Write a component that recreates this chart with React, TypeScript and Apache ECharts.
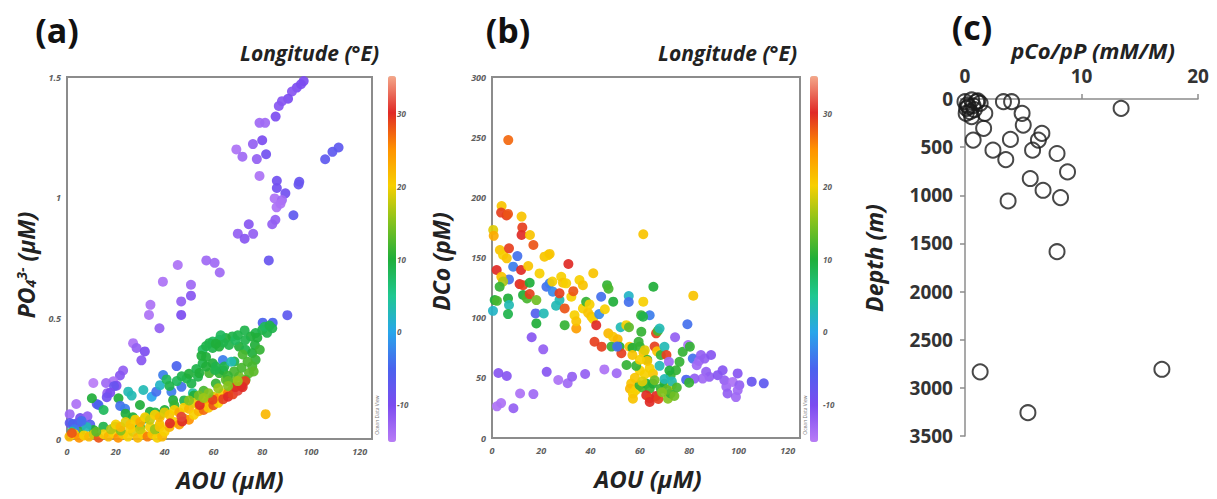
import React, { useEffect, useRef } from "react";
import * as echarts from "echarts";

// ---------- DATA ----------
// Panel (a): [AOU (µM), PO4 (µM), Longitude (°E)]
const panelA: number[][] = [
  // western / purple branch
  [97, 1.483, -10], [95.9, 1.47, -10], [94.2, 1.456, -10], [92.2, 1.44, -11], [90.6, 1.41, -10], [88.1, 1.4, -11],
  [86.8, 1.38, -11], [85.5, 1.336, -10], [78.9, 1.31, -13], [81.2, 1.31, -13], [80, 1.238, -10], [76.2, 1.222, -12],
  [69.4, 1.2, -14], [71.9, 1.17, -13], [77.8, 1.16, -12], [81.6, 1.18, -9], [78.9, 1.09, -14], [105.8, 1.159, -7],
  [108.8, 1.19, -7], [111.3, 1.208, -7], [86, 1.07, -9], [86, 1.04, -9], [89.5, 1.018, -9], [85.1, 0.997, -14],
  [88.1, 0.99, -13], [85.9, 0.96, -14], [95.2, 1.066, -8], [94.9, 1.055, -8], [92.8, 0.927, -7], [87.5, 0.975, -14],
  [85.4, 0.908, -12], [84.1, 0.89, -12], [74.5, 0.89, -11], [70, 0.851, -12], [72.8, 0.83, -11], [76.3, 0.85, -12],
  [82.7, 0.74, -8], [57.1, 0.74, -13], [60.5, 0.73, -13], [62.6, 0.69, -13], [45.4, 0.721, -14], [39.3, 0.652, -14],
  [50.8, 0.639, -13], [50.8, 0.594, -11], [46.8, 0.57, -12], [46.8, 0.514, -10], [34.2, 0.556, -14], [33.6, 0.514, -14],
  [37.9, 0.459, -12], [90.3, 0.513, -7], [27.1, 0.397, -14], [28.5, 0.377, -12], [31.9, 0.363, -10], [30.5, 0.326, -11],
  [23, 0.284, -12], [21.7, 0.263, -11], [19, 0.239, -14], [20.3, 0.221, -10], [16.5, 0.19, -12], [16, 0.232, -13],
  [10.8, 0.232, -15], [12.2, 0.145, -8], [3.8, 0.145, -14], [1.1, 0.103, -13], [5.4, 0.087, -9], [8.4, 0.094, -12],
  [4.3, 0.066, -8], [1.1, 0.066, -7], [19.3, 0.219, -8], [17.7, 0.192, -10], [16.3, 0.173, -9], [9.5, 0.06, -6],
  [6.5, 0.06, -7], [2.4, 0.062, -5],
  // scattered cyan / green / blue
  [10.2, 0.169, 10], [12.9, 0.141, -5], [21.1, 0.169, 10], [25.1, 0.196, 3], [26.5, 0.18, 3], [21.8, 0.137, -4],
  [23.8, 0.125, -3], [29.9, 0.141, 10], [31.3, 0.203, 3], [34.7, 0.175, 0], [36.6, 0.196, -4], [38.1, 0.223, 2],
  [39.4, 0.265, -3], [40.8, 0.247, 8], [42.8, 0.196, -3], [43.5, 0.161, 10], [44.9, 0.302, -5], [46.9, 0.216, -4],
  [49, 0.251, 9], [51, 0.23, 9], [51.6, 0.19, 4], [53.7, 0.258, 9], [34, 0.113, 10], [36, 0.11, 9], [29.9, 0.051, 10],
  [35.9, 0.03, 11], [19.7, 0.051, 10], [14.9, 0.051, 9], [10.9, 0.037, 10], [5.4, 0.03, 11], [27, 0.09, 10],
  [32, 0.085, 8], [24, 0.105, 10], [15, 0.12, 8], [8, 0.05, 3], [3, 0.04, -3], [6, 0.075, -4], [2, 0.03, 5],
  [45, 0.24, 8], [42, 0.22, 9], [47, 0.26, 9], [50, 0.27, 10], [53, 0.29, 9], [44, 0.14, 11], [40, 0.12, 10], [38, 0.1, 11],
  // dense green band
  [80.2, 0.482, -5], [84.3, 0.482, -5], [84.1, 0.459, 9], [80, 0.452, 9], [77.3, 0.439, 9], [75.3, 0.425, 10],
  [72.8, 0.45, 9], [67.8, 0.425, 9], [65.1, 0.418, 10], [62.4, 0.411, 9], [59.7, 0.404, 8], [58.3, 0.397, 9],
  [55.6, 0.37, 8], [59.7, 0.377, 9], [62.4, 0.383, 10], [66.4, 0.39, 9], [70.5, 0.383, 10], [73.2, 0.37, 9],
  [75.9, 0.356, 10], [77.3, 0.328, 11], [75.9, 0.301, 12], [74.6, 0.273, 13], [73.2, 0.246, 12], [70.5, 0.259, 14],
  [68.6, 0.321, 9], [59.7, 0.314, 10], [55.6, 0.314, 9], [54.2, 0.273, 10], [58.3, 0.273, 12], [62.4, 0.273, 11],
  [65.1, 0.246, 13], [68, 0.24, 14], [78, 0.42, 10], [82, 0.44, 9], [73, 0.41, 9], [69, 0.41, 8], [64, 0.4, 9],
  [61, 0.395, 10], [57, 0.385, 9], [77, 0.39, 10], [79, 0.37, 11], [72, 0.35, 12], [74, 0.32, 12], [76.5, 0.28, 13],
  [71.5, 0.295, 12], [68.5, 0.28, 12], [64, 0.285, 10], [61, 0.3, 9], [57, 0.3, 10], [55.1, 0.345, 10], [57, 0.34, 10],
  [63.9, 0.327, -3], [60.7, 0.286, 9], [64.5, 0.3, 9], [67.3, 0.32, 3], [65.9, 0.262, 11], [56, 0.2, 12], [61, 0.23, 11],
  [52, 0.18, 10], [48, 0.16, 9], [66, 0.24, 13], [81, 0.465, 8], [83, 0.47, 9], [70, 0.43, 9], [63, 0.43, 8],
  // yellow / orange / red band
  [1, 0.01, 22], [3, 0.02, 20], [5, 0.005, 25], [7, 0.015, 20], [9, 0.01, 22], [11, 0.02, 18], [13, 0.005, 28],
  [15, 0.02, 20], [17, 0.01, 22], [19, 0.025, 20], [21, 0.005, 25], [23, 0.02, 21], [25, 0.01, 20], [27, 0.03, 19],
  [29, 0.005, 22], [31, 0.02, 20], [33, 0.01, 26], [35, 0.02, 21], [37, 0.005, 20], [39, 0.01, 22], [2, 0.025, 28],
  [12, 0.03, 13], [18, 0.04, 17], [22, 0.035, 15], [26, 0.045, 20], [30, 0.04, 18], [34, 0.05, 20], [38, 0.06, 21],
  [36, 0.04, 16],
  [20, 0.06, 20], [22, 0.05, 22], [24, 0.07, 19], [26, 0.06, 21], [28, 0.08, 20], [30, 0.07, 23], [32, 0.09, 20],
  [34, 0.08, 18], [36, 0.1, 20], [38, 0.09, 22], [40, 0.11, 19], [42, 0.1, 21], [44, 0.12, 20], [46, 0.11, 23],
  [48, 0.13, 20], [50, 0.125, 22], [52, 0.15, 19], [54, 0.14, 21], [56, 0.16, 20], [58, 0.155, 24], [60, 0.175, 19],
  [62, 0.17, 25], [64, 0.19, 20], [66, 0.19, 26], [68, 0.21, 18], [38, 0.05, 21], [40, 0.03, 20], [42, 0.05, 22],
  [44, 0.07, 20], [46, 0.06, 24], [48, 0.085, 19], [50, 0.08, 25], [52, 0.1, 20], [54, 0.115, 22], [56, 0.12, 27],
  [58, 0.13, 21], [60, 0.14, 28], [62, 0.15, 20], [64, 0.165, 29], [66, 0.175, 30], [68, 0.185, 29], [70, 0.2, 31],
  [71.5, 0.22, 30], [73, 0.24, 29], [69, 0.215, 30], [72, 0.215, 30], [47.2, 0.073, 30], [42.2, 0.065, 30],
  [46.9, 0.092, 31], [54.4, 0.141, 30], [59.7, 0.163, 29], [81.4, 0.103, 22],
  [58, 0.19, 15], [62, 0.21, 16], [66, 0.22, 15], [70, 0.24, 16], [54, 0.18, 14], [50, 0.16, 15], [56, 0.17, 16],
];

// Panel (b): [AOU (µM), DCo (pM), Longitude (°E)]
const panelB: number[][] = [
  [6.6, 247.6, 27], [3.9, 192.8, 21], [3.7, 187.3, 29], [5.9, 185, 29], [6.5, 186.2, 28], [12, 184, 21],
  [12.3, 175, 29], [12, 168.8, 30], [15.4, 168.7, 21], [16.8, 160.4, 28], [0.5, 172.9, 19], [0.7, 168, 23],
  [3.2, 156.2, 21], [4.5, 152.1, 20], [6, 149.3, 21], [6.9, 157.6, 29], [1.9, 139.6, 30], [10.3, 151.2, -4],
  [8.6, 142.4, -3], [6.9, 131.8, -4], [3.8, 134, 21], [4.5, 130, 17], [3.1, 125.7, 11], [1.1, 114.6, 10],
  [2, 114, 12], [0.4, 105.7, 2], [6.5, 116, 10], [6.9, 110.5, 3], [6.5, 103, 9], [11.8, 139.6, 30],
  [11.2, 127.9, 30], [12.6, 127, 29], [12.6, 118.8, 10], [14.2, 116, 12], [15.3, 129, 10], [15.3, 119.6, 29],
  [14.7, 142.9, 21], [18, 114.6, 14], [17.7, 103.5, -6], [18, 95.2, 10], [16.1, 83.7, -11], [20.8, 73.7, -12],
  [19.3, 136.8, 20], [21.3, 150.7, 21], [22.8, 152, 20], [23.4, 153, 21], [21, 103.5, 3], [22.1, 125.7, -4],
  [23.4, 128.5, -3], [24.5, 130, 20], [24.7, 121.6, -2], [26, 110, 3], [27.4, 114.6, 3], [27.4, 120.2, 29],
  [28.1, 134, 20], [28.8, 129, 21], [30.1, 128.5, 20], [31, 144.6, 30], [29.5, 107.7, 28], [29.5, 93.8, 11],
  [30.7, 45.5, -13], [26.9, 48.2, -14], [22.2, 55, -11], [2.6, 54, -11], [6, 51.5, -11], [2, 26.3, -14],
  [3.7, 29, -14], [8.7, 24.7, -12], [11.4, 37, -14], [16.8, 36.5, -13], [32.5, 51, -12], [37.8, 53.2, -12],
  [45.6, 57, -14], [32.2, 117.4, 20], [33, 122, 28], [33.5, 102.1, 20], [34.2, 91, 24], [34.2, 97, 21],
  [35.5, 131.3, 20], [36.9, 127, 21], [36.9, 107.7, 20], [38.2, 113.2, 11], [39, 104, 21], [39.6, 111, 20],
  [40.3, 101, 21], [41, 99, 20], [41.1, 136.9, 21], [42.3, 93.8, 30], [41.6, 80, 29], [44.5, 75.9, 29],
  [43.5, 103, -2], [44.3, 117.4, -4], [46.7, 127, 11], [47.3, 124, 12], [45.8, 107, 20], [49.2, 113.3, 10],
  [47.2, 87, 22], [48.5, 76, 11], [49.1, 84.1, 21], [51, 82, 22], [51.8, 75.8, 10], [52.5, 70.4, 29],
  [50.8, 76, -4], [50.6, 53.8, -13], [52.2, 92, 3], [55.5, 118, 2], [55.5, 113, -4], [54.5, 93.8, 20],
  [55.6, 92, 13], [54.6, 60.7, 11], [55.8, 75.8, 21], [57, 75, 10], [61.4, 169.3, 21], [61.4, 113.3, 20],
  [60.5, 102.1, 11], [64, 102, -3], [65.5, 125.7, 10], [61.3, 100.8, 9], [60.6, 88.3, 11], [60, 76, 11],
  [61.5, 70.8, 21], [63, 65, 11], [66.6, 87, 29], [67.3, 89, 12], [68, 91, 3], [66, 76, 29], [67, 72, 21],
  [68.5, 69, 11], [70, 75.8, 3], [70.8, 69, 29], [74.3, 83.7, -12], [71.8, 63.3, -13], [76.1, 63.3, 11],
  [77.4, 71.6, 11], [79.6, 77.3, -14], [79.3, 94.5, -4], [80.3, 75.9, 11], [81.5, 66, -4], [81.7, 118.3, 21],
  [83.1, 60.5, -13], [84, 64, -13], [84.8, 69, -12], [86.3, 66, -12], [88.9, 69, -11], [86.9, 55, -12],
  [88.2, 50.8, -12], [85.5, 49.4, -13], [82.2, 49.4, -12], [78.8, 48.5, -5], [91.6, 52.2, -11], [93.6, 56.3, -11],
  [94.3, 48, -12], [95.1, 42.5, -13], [97.7, 46.6, -14], [99.7, 53.7, -11], [100.4, 43.9, -12], [99.7, 39.7, -13],
  [99, 34, -13], [95.6, 37, -12], [105.4, 46.8, -8], [110.3, 45.4, -7],
  // dense cluster
  [56.5, 45.2, 21], [56, 41, 22], [57.2, 36.9, 20], [57.2, 32.7, 21], [58.5, 40, 20], [59.9, 43.9, 11],
  [61, 42, 12], [62.6, 45.2, 10], [64, 41, 11], [65.3, 45.2, 10], [62.6, 35.5, 30], [64, 33, 29], [64, 30, 30],
  [66.6, 35, 30], [67.5, 32.5, 29], [68.5, 41, 11], [70, 45, 10], [71.4, 32.7, 15], [72.5, 37, 11], [73, 44, 20],
  [72.5, 52, 11], [74.7, 56.3, 11], [72, 56, 10], [65.3, 53.6, 21], [64, 58, 20], [63, 64, 21], [62, 53, 20],
  [68, 60, 3], [70, 49, 3], [71, 40, 13], [73, 47, 3], [80, 46, 11], [60, 56, 20], [58, 50, 21], [61, 47, 19],
  [66, 48, 14], [69, 38, 15], [74, 35, 14], [75, 42, 12], [58.5, 60, 11], [60, 65, 20], [62, 73, 19], [57, 69, 21],
  [59.5, 80, 11],
];

// Panel (c): [pCo/pP (mM/M), Depth (m)]
const panelC: number[][] = [
  [0, 28], [0.57, 10], [1.0, 28], [1.3, 45], [0.14, 97], [0.43, 132], [0.57, 184], [0.2, 60], [0.3, 80],
  [0.8, 110], [1.1, 20], [0.1, 150], [0.7, 70],
  [3.3, 28], [4.0, 28], [1.7, 149], [4.9, 149], [5.0, 271], [1.6, 305], [0.7, 427], [3.9, 420], [6.6, 357],
  [6.3, 427], [5.8, 531], [2.4, 531], [3.5, 629], [7.9, 566], [8.8, 757], [5.6, 826], [6.7, 948], [8.2, 1024],
  [3.7, 1059], [7.9, 1586], [1.3, 2834], [16.9, 2807], [5.4, 3258], [13.4, 97],
];

const lonTicks = [-10, 0, 10, 20, 30];
const lonColors = [
  "#b87cf6", "#7c4cf0", "#4a62ee", "#28a6ea", "#1fc890", "#20ae3a",
  "#84c21e", "#f7cf00", "#ff9200", "#e02a26", "#f4a88a",
];

// ---------- STYLES ----------
const FONT = "'Open Sans', 'DejaVu Sans', sans-serif";
const nameStyle = {
  fontSize: 23, fontWeight: "bold" as const, fontStyle: "italic" as const, color: "#222", fontFamily: FONT,
};
const smallTick = {
  fontSize: 9, fontStyle: "italic" as const, fontWeight: "bold" as const, color: "#5e5e5e", fontFamily: FONT,
};
const boldTick = { fontSize: 19, fontWeight: "bold" as const, color: "#333", fontFamily: FONT };
const frame = { show: true, borderColor: "#8c8c8c", borderWidth: 2, backgroundColor: "#fff" };

function buildOption(): echarts.EChartsOption {
  const hiddenX = (gi: number) => ({ type: "value" as const, gridIndex: gi, show: false, min: 0, max: 1 });
  const colorAxis = (gi: number) => ({
    type: "value" as const, gridIndex: gi, min: -15, max: 35,
    axisLine: { show: false }, axisTick: { show: false }, splitLine: { show: false },
    axisLabel: { ...smallTick, fontSize: 8, inside: true, margin: 2, customValues: lonTicks },
  });
  return {
    animation: false,
    backgroundColor: "#fff",
    grid: [
      { left: 67, top: 77, width: 305, height: 362, ...frame },
      { left: 492, top: 77, width: 308, height: 361, ...frame },
      { left: 965, top: 99, width: 233, height: 337 },
      { left: 395, top: 77, width: 1, height: 364 },
      { left: 821, top: 77, width: 1, height: 364 },
    ],
    xAxis: [
      {
        type: "value", gridIndex: 0, min: 0, max: 125, interval: 20,
        axisLine: { show: false }, axisTick: { show: false }, splitLine: { show: false },
        axisLabel: { ...smallTick, margin: 8 },
        name: "AOU (μM)", nameLocation: "middle", nameGap: 28,
        nameTextStyle: { ...nameStyle, fontSize: 24, padding: [0, 0, 0, 21] },
      },
      {
        type: "value", gridIndex: 1, min: 0, max: 125, interval: 20,
        axisLine: { show: false }, axisTick: { show: false }, splitLine: { show: false },
        axisLabel: { ...smallTick, margin: 8 },
        name: "AOU (μM)", nameLocation: "middle", nameGap: 28,
        nameTextStyle: { ...nameStyle, fontSize: 24, padding: [0, 0, 0, 4] },
      },
      {
        type: "value", gridIndex: 2, position: "top", min: 0, max: 20, interval: 10,
        axisLine: { show: true, lineStyle: { color: "#8c8c8c", width: 1.5 } },
        axisTick: { show: true, length: 5, lineStyle: { color: "#8c8c8c", width: 1.5 } },
        splitLine: { show: false },
        axisLabel: { ...boldTick, margin: 14 },
        name: "pCo/pP (mM/M)", nameLocation: "middle", nameGap: 37,
        nameTextStyle: { ...nameStyle, fontSize: 22, padding: [0, 0, 0, 23] },
      },
      hiddenX(3),
      hiddenX(4),
    ],
    yAxis: [
      {
        type: "value", gridIndex: 0, min: 0, max: 1.5, interval: 0.5,
        axisLine: { show: false }, axisTick: { show: false }, splitLine: { show: false },
        axisLabel: { ...smallTick, margin: 6 },
        name: "{m|PO}{sub|4}{sup|3-}{m| (μM)}", nameLocation: "middle", nameGap: 30,
        nameTextStyle: {
          padding: [0, 14, 0, 0],
          rich: {
            m: { ...nameStyle, fontSize: 23 },
            sub: { ...nameStyle, fontSize: 14, verticalAlign: "bottom" },
            sup: { ...nameStyle, fontSize: 14, verticalAlign: "top" },
          },
        },
      },
      {
        type: "value", gridIndex: 1, min: 0, max: 300, interval: 50,
        axisLine: { show: false }, axisTick: { show: false }, splitLine: { show: false },
        axisLabel: { ...smallTick, margin: 6 },
        name: "DCo (pM)", nameLocation: "middle", nameGap: 40,
        nameTextStyle: { ...nameStyle, fontSize: 23, padding: [0, 8, 0, 0] },
      },
      {
        type: "value", gridIndex: 2, inverse: true, min: 0, max: 3500, interval: 500,
        axisLine: { show: true, lineStyle: { color: "#8c8c8c", width: 1.5 } },
        axisTick: { show: true, length: 5, lineStyle: { color: "#8c8c8c", width: 1.5 } },
        splitLine: { show: false },
        axisLabel: { ...boldTick, margin: 12, formatter: (v: number) => String(v) },
        name: "Depth (m)", nameLocation: "middle", nameGap: 80,
        nameTextStyle: { ...nameStyle, fontSize: 23, padding: [0, 0, 0, 19] },
      },
      colorAxis(3),
      colorAxis(4),
    ],
    visualMap: [
      {
        type: "continuous", seriesIndex: 0, dimension: 2, min: -15, max: 35,
        inRange: { color: lonColors }, left: 388, top: 76, itemWidth: 8, itemHeight: 366,
        padding: 0, calculable: false, orient: "vertical",
      },
      {
        type: "continuous", seriesIndex: 1, dimension: 2, min: -15, max: 35,
        inRange: { color: lonColors }, left: 810, top: 76, itemWidth: 8, itemHeight: 366,
        padding: 0, calculable: false, orient: "vertical",
      },
    ],
    series: [
      {
        type: "scatter", xAxisIndex: 0, yAxisIndex: 0, data: panelA, symbolSize: 10,
        itemStyle: { opacity: 0.92 },
      },
      {
        type: "scatter", xAxisIndex: 1, yAxisIndex: 1, data: panelB, symbolSize: 10,
        itemStyle: { opacity: 0.92 },
      },
      {
        type: "scatter", xAxisIndex: 2, yAxisIndex: 2, data: panelC, symbol: "circle", symbolSize: 15,
        itemStyle: { color: "rgba(255,255,255,0)", borderColor: "#1a1a1a", borderWidth: 2 },
      },
    ],
    graphic: [
      { type: "text", x: 57, y: 30, style: { text: "(a)", fill: "#111", font: `bold 34px ${FONT}`, textAlign: "center", textVerticalAlign: "middle" } },
      { type: "text", x: 508, y: 30, style: { text: "(b)", fill: "#111", font: `bold 34px ${FONT}`, textAlign: "center", textVerticalAlign: "middle" } },
      { type: "text", x: 972, y: 27, style: { text: "(c)", fill: "#111", font: `bold 34px ${FONT}`, textAlign: "center", textVerticalAlign: "middle" } },
      { type: "text", x: 379, y: 53, style: { text: "Longitude (°E)", fill: "#222", font: `italic bold 21px ${FONT}`, textAlign: "right", textVerticalAlign: "middle" } },
      { type: "text", x: 797, y: 53, style: { text: "Longitude (°E)", fill: "#222", font: `italic bold 21px ${FONT}`, textAlign: "right", textVerticalAlign: "middle" } },
      { type: "text", x: 377, y: 415, rotation: Math.PI / 2, style: { text: "Ocean Data View", fill: "#777", font: `5px ${FONT}`, textAlign: "center", textVerticalAlign: "middle" } },
      { type: "text", x: 805, y: 415, rotation: Math.PI / 2, style: { text: "Ocean Data View", fill: "#777", font: `5px ${FONT}`, textAlign: "center", textVerticalAlign: "middle" } },
    ],
  } as echarts.EChartsOption;
}

export default function App() {
  const ref = useRef<HTMLDivElement>(null);
  useEffect(() => {
    document.body.style.margin = "0";
    const chart = echarts.init(ref.current!, null, { renderer: "svg" });
    chart.setOption(buildOption());
    return () => chart.dispose();
  }, []);
  return <div ref={ref} style={{ width: 1217, height: 499 }} />;
}
